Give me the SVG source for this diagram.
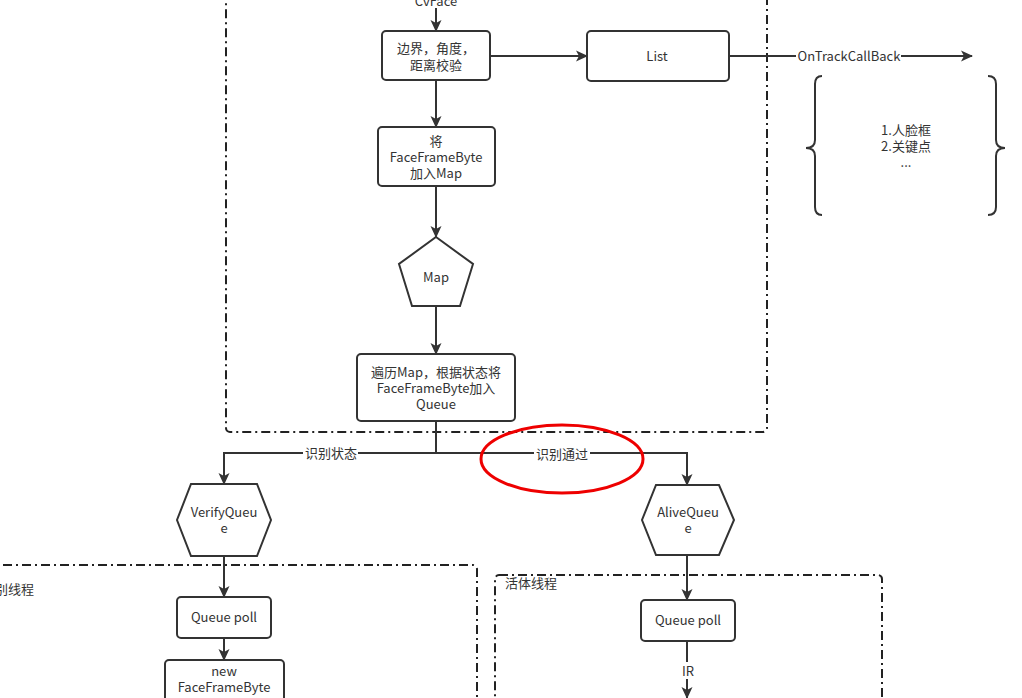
<svg xmlns="http://www.w3.org/2000/svg" width="1022" height="698" viewBox="0 0 1022 698">
  <defs>
    <marker id="arrow" markerWidth="12" markerHeight="12" refX="11" refY="6" orient="auto" markerUnits="userSpaceOnUse">
      <path d="M0,0.5 L12,6 L0,11.5 L3,6 Z" fill="#333"/>
    </marker>
    <style>
      .box { fill: #fff; stroke: #333; stroke-width: 2; }
      .frame { fill: none; stroke: #222; stroke-width: 2; stroke-dasharray: 9 4 2 4; }
      .edge { fill: none; stroke: #333; stroke-width: 2; }
      .arr { marker-end: url(#arrow); }
      text { font-family: "Noto Sans CJK SC", "Noto Sans", sans-serif; font-size: 13px; fill: #333; text-anchor: middle; }
      .left { text-anchor: start; }
    </style>
  </defs>
  <rect width="1022" height="698" fill="#fff"/>

  <!-- thread frames -->
  <g id="frames">
    <rect class="frame" x="226" y="-20" width="541" height="452" rx="4"/>
    <rect class="frame" x="-20" y="565" width="497" height="160" rx="4"/>
    <text class="left" x="-18" y="594">识别线程</text>
    <rect class="frame" x="495" y="575" width="387" height="160" rx="4"/>
    <text class="left" x="505" y="588">活体线程</text>
  </g>

  <!-- connectors -->
  <g id="connectors">
    <path class="edge arr" d="M436,8 L436,31"/>
    <path class="edge arr" d="M490,56 L587,56"/>
    <path class="edge" d="M729,56 L796,56"/>
    <path class="edge arr" d="M901,56 L972,56"/>
    <path class="edge arr" d="M436,80 L436,127"/>
    <path class="edge arr" d="M436,186 L436,237"/>
    <path class="edge arr" d="M436,306 L436,354"/>
    <path class="edge" d="M436,421 L436,453 L358,453"/>
    <path class="edge arr" d="M303,453 L224,453 L224,484"/>
    <path class="edge" d="M436,453 L534,453"/>
    <path class="edge arr" d="M590,453 L687,453 L687,485"/>
    <path class="edge arr" d="M224,556 L224,597"/>
    <path class="edge arr" d="M224,638 L224,660"/>
    <path class="edge arr" d="M687,555 L687,600"/>
    <path class="edge" d="M687,641 L687,662"/>
    <path class="edge arr" d="M687,679 L687,698"/>
    <text x="436" y="6">CvFace</text>
    <text x="849" y="61">OnTrackCallBack</text>
    <text x="331" y="458">识别状态</text>
    <text x="562" y="459">识别通过</text>
    <text x="688" y="676">IR</text>
  </g>

  <!-- highlight ring -->
  <ellipse cx="562" cy="459" rx="81" ry="34" fill="none" stroke="#e00" stroke-width="3"/>

  <g id="check">
    <rect class="box" x="382" y="31" width="108" height="49" rx="4"/>
    <text x="436" y="53">边界，角度，<tspan x="436" dy="17">距离校验</tspan></text>
  </g>

  <g id="list">
    <rect class="box" x="587" y="31" width="142" height="50" rx="4"/>
    <text x="657" y="61">List</text>
  </g>

  <g id="callback-info">
    <path class="edge" d="M822,76 Q815,76 815,84 L815,140 Q815,148 806,148 Q815,148 815,156 L815,207 Q815,215 822,215"/>
    <path class="edge" d="M988,76 Q996,76 996,84 L996,140 Q996,148 1005,148 Q996,148 996,156 L996,207 Q996,215 988,215"/>
    <text x="906" y="135">1.人脸框<tspan x="906" dy="16">2.关键点</tspan><tspan x="906" dy="16">...</tspan></text>
  </g>

  <g id="add-map">
    <rect class="box" x="378" y="127" width="117" height="59" rx="4"/>
    <text x="436" y="146">将<tspan x="436" dy="16">FaceFrameByte</tspan><tspan x="436" dy="16">加入Map</tspan></text>
  </g>

  <g id="map">
    <polygon class="box" points="436,237 473,264 460,306 412,306 399,264"/>
    <text x="436" y="282">Map</text>
  </g>

  <g id="dispatch">
    <rect class="box" x="357" y="354" width="158" height="67" rx="4"/>
    <text x="436" y="377">遍历Map，根据状态将<tspan x="436" dy="16">FaceFrameByte加入</tspan><tspan x="436" dy="16">Queue</tspan></text>
  </g>

  <g id="verify-queue">
    <polygon class="box" points="191,484 257,484 271,520 257,556 191,556 177,520"/>
    <text x="224" y="517">VerifyQueu<tspan x="224" dy="16">e</tspan></text>
  </g>

  <g id="alive-queue">
    <polygon class="box" points="656,485 719,485 734,520 719,555 656,555 642,520"/>
    <text x="688" y="517">AliveQueu<tspan x="688" dy="16">e</tspan></text>
  </g>

  <g id="verify-poll">
    <rect class="box" x="177" y="597" width="94" height="41" rx="4"/>
    <text x="224" y="622">Queue poll</text>
  </g>

  <g id="new-frame">
    <rect class="box" x="165" y="660" width="119" height="50" rx="4"/>
    <text x="224" y="676">new<tspan x="224" dy="16">FaceFrameByte</tspan></text>
  </g>

  <g id="alive-poll">
    <rect class="box" x="641" y="600" width="94" height="41" rx="4"/>
    <text x="688" y="625">Queue poll</text>
  </g>
</svg>
